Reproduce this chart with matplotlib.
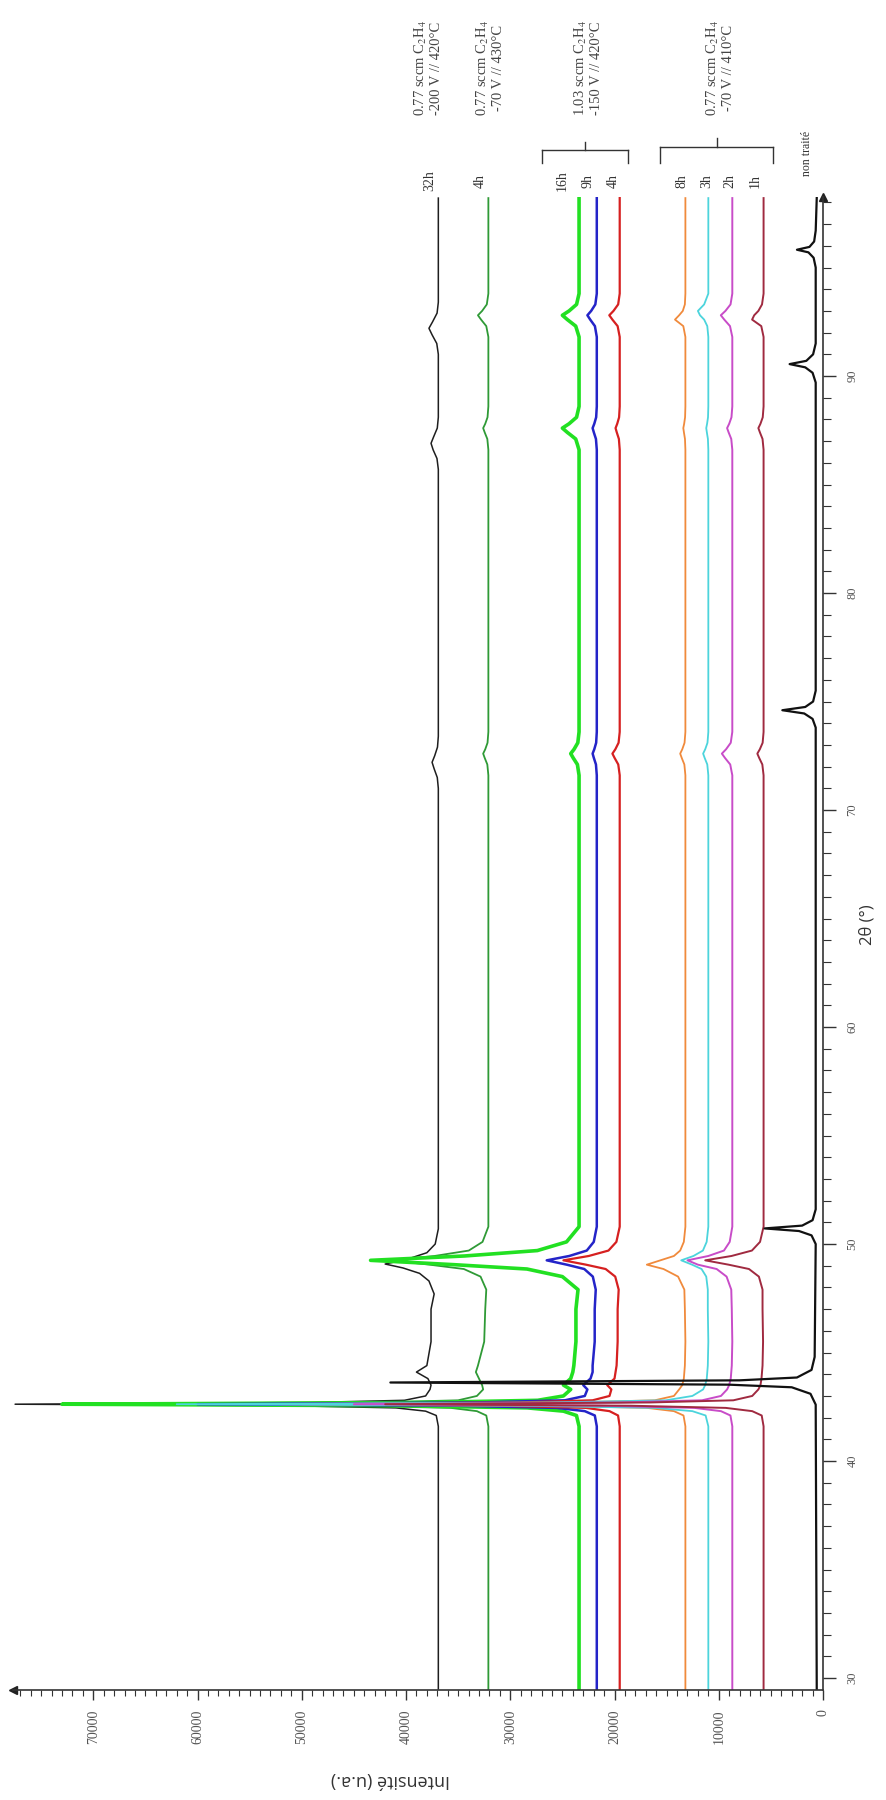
import matplotlib.pyplot as plt
from matplotlib.ticker import MultipleLocator
from matplotlib.lines import Line2D

plt.rcParams["mathtext.fontset"] = "stix"

# 2theta points (deg) shared by the treated samples
two_theta = [29.5, 41.6, 42.1, 42.3, 42.45, 42.55, 42.62, 42.7, 42.8, 43.0,
             43.3, 43.5, 43.8, 44.1, 44.4, 45.5, 47.0,
             47.9, 48.5, 48.85, 49.05, 49.25, 49.45, 49.7, 50.1, 50.8,
             71.6, 72.1, 72.4, 72.6, 72.8, 73.1, 73.6,
             86.6, 87.1, 87.4, 87.6, 87.8, 88.1, 88.6,
             91.8, 92.3, 92.6, 92.8, 93.0, 93.3, 93.8,
             98.2]

# 0.77 sccm / -70 V / 430C, 4h
int_4h_430 = [32100, 32100, 32300, 33200, 35700, 44700, 68000, 42900, 35000, 33200,
              32600, 32700, 33000, 33300, 33100, 32500, 32400,
              32300, 32850, 34450, 37740, 41500, 37270, 33980, 32660, 32100,
              32100, 32200, 32450, 32600, 32400, 32180, 32100,
              32100, 32200, 32450, 32600, 32400, 32180, 32100,
              32100, 32300, 32800, 33100, 32700, 32250, 32100,
              32100]
# 1.03 sccm / -150 V / 420C
int_16h = [23400, 23400, 23650, 24900, 28360, 40760, 73000, 38280, 27370, 24900,
           24200, 24900, 24200, 24000, 23900, 23700, 23700,
           23500, 25000, 28400, 35400, 43400, 34400, 27400, 24600, 23400,
           23400, 23560, 23960, 24200, 23880, 23520, 23400,
           23400, 23720, 24520, 25000, 24360, 23640, 23400,
           23400, 23720, 24520, 25000, 24360, 23640, 23400,
           23400]
int_9h = [21700, 21700, 21890, 22850, 25530, 35100, 60000, 33190, 24760, 22850,
          22600, 23000, 22300, 22100, 22100, 21900, 21900,
          21800, 22080, 22900, 24580, 26500, 24340, 22660, 21990, 21700,
          21700, 21780, 21980, 22100, 21940, 21760, 21700,
          21700, 21780, 21980, 22100, 21940, 21760, 21700,
          21700, 21880, 22330, 22600, 22240, 21840, 21700,
          21700]
int_4h_420 = [19500, 19500, 19660, 20480, 22750, 30880, 52000, 29250, 22100, 20480,
              20300, 20700, 20000, 19900, 19800, 19700, 19700,
              19600, 19930, 20850, 22740, 24900, 22470, 20580, 19820, 19500,
              19500, 19640, 19990, 20200, 19920, 19610, 19500,
              19500, 19580, 19780, 19900, 19740, 19560, 19500,
              19500, 19700, 20200, 20500, 20100, 19650, 19500,
              19500]
# 0.77 sccm / -70 V / 410C
int_8h = [13200, 13200, 13380, 14300, 16880, 26080, 50000, 24240, 16140, 14300,
          13800, 13500, 13350, 13300, 13250, 13200, 13250,
          13300, 13900, 15300, 16900, 15600, 14300, 13700, 13350, 13200,
          13200, 13300, 13550, 13700, 13500, 13280, 13200,
          13200, 13240, 13340, 13400, 13320, 13230, 13200,
          13200, 13400, 14200, 13800, 13450, 13250, 13200,
          13200]
int_3h = [11000, 11000, 11260, 12530, 16100, 28850, 62000, 26300, 15080, 12530,
          11500, 11300, 11150, 11100, 11050, 11000, 11050,
          11050, 11200, 11650, 12560, 13600, 12430, 11520, 11160, 11000,
          11000, 11100, 11350, 11500, 11300, 11080, 11000,
          11000, 11040, 11140, 11200, 11120, 11030, 11000,
          11000, 11100, 11400, 11800, 12000, 11400, 11000,
          11000]
int_2h = [8700, 8700, 8880, 9790, 12330, 21410, 45000, 19590, 11600, 9790,
          9200, 9000, 8850, 8800, 8750, 8700, 8750,
          8800, 9250, 10200, 12000, 13000, 11000, 9500, 8950, 8700,
          8700, 8900, 9400, 9700, 9300, 8850, 8700,
          8700, 8800, 9050, 9200, 9000, 8780, 8700,
          8700, 8920, 9470, 9800, 9360, 8870, 8700,
          8700]
int_1h = [5700, 5700, 5880, 6790, 9330, 18410, 42000, 16590, 8600, 6790,
          6200, 6000, 5900, 5850, 5800, 5750, 5800,
          5800, 6150, 7100, 9060, 11300, 8780, 6820, 6040, 5700,
          5700, 5820, 6120, 6300, 6060, 5790, 5700,
          5700, 5800, 6050, 6200, 6000, 5780, 5700,
          5700, 5920, 6800, 6600, 6200, 5850, 5700,
          5700]

# 0.77 sccm / -200 V / 420C, 32h
two_theta_32h = [29.5, 41.6, 42.1, 42.3, 42.45, 42.55, 42.62, 42.7, 42.8, 43.0,
                 43.3, 43.5, 43.8, 44.1, 44.4, 45.5, 47.0,
                 47.7, 48.3, 48.65, 48.9, 49.08, 49.3, 49.6, 50.0, 50.7,
                 71.0, 71.5, 71.9, 72.2, 72.5, 72.9, 73.4,
                 85.7, 86.2, 86.6, 86.9, 87.2, 87.6, 88.1,
                 91.0, 91.5, 91.9, 92.2, 92.5, 92.9, 93.4,
                 98.2]
int_32h = [36900, 36900, 37100, 38120, 40960, 51110, 77500, 49080, 40150, 38120,
           37700, 37600, 37900, 39000, 38000, 37600, 37600,
           37300, 37800, 38700, 40300, 42000, 39900, 38000, 37200, 36900,
           36900, 37000, 37300, 37500, 37250, 36980, 36900,
           36900, 37030, 37400, 37600, 37350, 37000, 36900,
           36900, 37050, 37500, 37800, 37450, 37020, 36900,
           36900]

# untreated substrate
two_theta_ref = [29.5, 42.6, 43.1, 43.4, 43.52, 43.62, 43.72, 43.85, 44.2, 44.8,
                 50.0, 50.4, 50.6, 50.72, 50.85, 51.1, 51.6,
                 73.8, 74.2, 74.45, 74.6, 74.75, 75.0, 75.5,
                 89.7, 90.15, 90.4, 90.55, 90.7, 91.0, 91.5,
                 95.0, 95.45, 95.7, 95.82, 95.95, 96.2, 96.7,
                 98.2]
int_ref = [600, 700, 1200, 3000, 9000, 41500, 8000, 2500, 1100, 800,
           700, 1100, 2300, 5600, 2000, 1000, 700,
           700, 1000, 1800, 3900, 1700, 950, 700,
           700, 1000, 1700, 3200, 1600, 950, 700,
           700, 900, 1400, 2500, 1300, 850, 700,
           600]

W, H = 886, 1800
fig = plt.figure(figsize=(W / 100, H / 100), dpi=100)
ax = fig.add_axes([13 / W, 110 / H, 810 / W, 1493 / H])

# (x, y, color, linewidth)
curves = [
    (two_theta_32h, int_32h, "#1e1e1e", 1.1),
    (two_theta, int_4h_430, "#2f9a36", 1.3),
    (two_theta, int_16h, "#22e022", 2.6),
    (two_theta, int_9h, "#2424c8", 1.8),
    (two_theta, int_4h_420, "#d62020", 1.6),
    (two_theta, int_8h, "#f08a3c", 1.3),
    (two_theta, int_3h, "#4cd4dc", 1.3),
    (two_theta, int_2h, "#c84cc8", 1.4),
    (two_theta, int_1h, "#a02a40", 1.4),
    (two_theta_ref, int_ref, "#111111", 1.6),
]
for tt, ii, col, lw in curves:
    ax.plot(ii, tt, color=col, lw=lw, solid_joinstyle="round")

ax.set_xlim(77700, 0)
ax.set_ylim(29.45, 98.25)

for s in ["top", "left"]:
    ax.spines[s].set_visible(False)
for s in ["bottom", "right"]:
    ax.spines[s].set_linewidth(1.2)
    ax.spines[s].set_color("#333333")

ax.yaxis.tick_right()
ax.xaxis.set_major_locator(MultipleLocator(10000))
ax.xaxis.set_minor_locator(MultipleLocator(1000))
ax.yaxis.set_major_locator(MultipleLocator(10))
ax.yaxis.set_minor_locator(MultipleLocator(1))
ax.set_xticks(range(0, 70001, 10000))
ax.tick_params(axis="x", which="major", length=7, width=1, pad=7, colors="#333333",
               labelsize=10, labelcolor="#555555")
ax.tick_params(axis="x", which="minor", length=4, width=0.8, colors="#333333")
ax.tick_params(axis="y", which="major", length=9, width=1, pad=8, colors="#333333",
               labelsize=9, labelcolor="#555555")
ax.tick_params(axis="y", which="minor", length=5.5, width=0.8, colors="#333333")
for lab in ax.get_xticklabels():
    lab.set_rotation(90)
    lab.set_family("Liberation Serif")
for lab in ax.get_yticklabels():
    lab.set_rotation(90)
    lab.set_va("center")
    lab.set_family("Liberation Serif")

# arrow heads on the axes
ax.plot(0, 0, marker="<", ms=6, color="#222222", transform=ax.transAxes, clip_on=False)
ax.plot(1, 1, marker="^", ms=6, color="#222222", transform=ax.transAxes, clip_on=False)


def px(x, y):
    return x / W, 1 - y / H


serif = ["Liberation Serif", "DejaVu Serif"]
fig.text(*px(390, 1780), "Intensité (u.a.)", rotation=180, ha="center", va="center",
         fontsize=13, family="Open Sans", color="#333333")
fig.text(*px(868, 925), "2θ (°)", rotation=90, ha="center", va="center",
         fontsize=12, family="Open Sans", color="#333333")

conditions = [
    (428, "0.77 sccm C$_2$H$_4$\n-200 V // 420°C"),
    (490, "0.77 sccm C$_2$H$_4$\n-70 V // 430°C"),
    (588, "1.03 sccm C$_2$H$_4$\n-150 V // 420°C"),
    (720, "0.77 sccm C$_2$H$_4$\n-70 V // 410°C"),
]
for x, t in conditions:
    fig.text(*px(x, 68), t, rotation=90, ha="center", va="center", fontsize=10.5,
             family=serif, color="#444444", multialignment="center", linespacing=1.15)

durations = [(430, "32h"), (480, "4h"), (562, "16h"), (588, "9h"), (613, "4h"),
             (682, "8h"), (707, "3h"), (730, "2h"), (755, "1h")]
for x, t in durations:
    fig.text(*px(x, 181), t, rotation=90, ha="center", va="center", fontsize=10,
             family=serif, color="#333333")
fig.text(*px(807, 153), "non traité", rotation=90, ha="center", va="center", fontsize=8.5,
         family=serif, color="#333333")

# brackets grouping the series
for x0, x1, xm, yb, ytop in [(542, 628, 585, 150, 142), (660, 773, 717, 147, 138)]:
    for xs, ys in [([x0, x1], [yb, yb]), ([x0, x0], [yb, 163]), ([x1, x1], [yb, 163]),
                   ([xm, xm], [yb, ytop])]:
        fig.add_artist(Line2D([x / W for x in xs], [1 - y / H for y in ys],
                              color="#333333", lw=1))

fig.savefig("out.png", dpi=100, facecolor="white")
